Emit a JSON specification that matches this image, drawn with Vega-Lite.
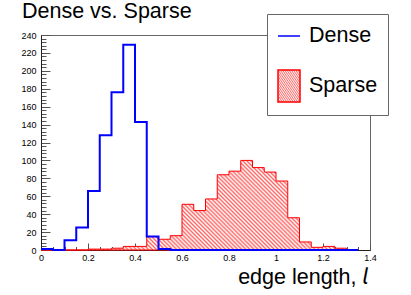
{
"$schema": "https://vega.github.io/schema/vega-lite/v6.json",
"width": 329, "height": 215,
"autosize": "none",
"padding": {"left": 41, "top": 35, "right": 41, "bottom": 45},
"background": "white",
"title": {"text": "Dense vs. Sparse", "anchor": "start", "frame": "group", "dx": -19, "offset": 0, "dy": 26, "baseline": "alphabetic", "fontSize": 21.5, "font": "Liberation Sans", "fontWeight": "normal", "color": "#000"},
"data": {"values": [
{"bin": 0, "dense": 1, "sparse": 0},
{"bin": 0.05, "dense": 0, "sparse": 0},
{"bin": 0.1, "dense": 11, "sparse": 0},
{"bin": 0.15, "dense": 25, "sparse": 0},
{"bin": 0.2, "dense": 66, "sparse": 1},
{"bin": 0.25, "dense": 128, "sparse": 1},
{"bin": 0.3, "dense": 176, "sparse": 2},
{"bin": 0.35, "dense": 229, "sparse": 4},
{"bin": 0.4, "dense": 143, "sparse": 4},
{"bin": 0.45, "dense": 15, "sparse": 15},
{"bin": 0.5, "dense": 1, "sparse": 12},
{"bin": 0.55, "dense": 0, "sparse": 16},
{"bin": 0.6, "dense": 0, "sparse": 51},
{"bin": 0.65, "dense": 0, "sparse": 44},
{"bin": 0.7, "dense": 0, "sparse": 57},
{"bin": 0.75, "dense": 0, "sparse": 84},
{"bin": 0.8, "dense": 0, "sparse": 88},
{"bin": 0.85, "dense": 0, "sparse": 100},
{"bin": 0.9, "dense": 0, "sparse": 92},
{"bin": 0.95, "dense": 0, "sparse": 87},
{"bin": 1.0, "dense": 0, "sparse": 77},
{"bin": 1.05, "dense": 0, "sparse": 36},
{"bin": 1.1, "dense": 0, "sparse": 9},
{"bin": 1.15, "dense": 0, "sparse": 3},
{"bin": 1.2, "dense": 0, "sparse": 4},
{"bin": 1.25, "dense": 0, "sparse": 2},
{"bin": 1.3, "dense": 0, "sparse": 0},
{"bin": 1.35, "dense": 0, "sparse": 0}
]},
"layer": [
{
"mark": {"type": "area", "interpolate": "step-after", "strokeWidth": 1, "strokeJoin": "miter",
 "fill": {"gradient": "linear", "x1": 0, "y1": 1, "x2": 1.1877, "y2": 0.6646, "stops": [
{"offset":0,"color":"#fff"},{"offset":0.005,"color":"#f66"},{"offset":0.01,"color":"#fff"},{"offset":0.015,"color":"#f66"},{"offset":0.02,"color":"#fff"},{"offset":0.025,"color":"#f66"},{"offset":0.03,"color":"#fff"},{"offset":0.035,"color":"#f66"},{"offset":0.04,"color":"#fff"},{"offset":0.045,"color":"#f66"},
{"offset":0.05,"color":"#fff"},{"offset":0.055,"color":"#f66"},{"offset":0.06,"color":"#fff"},{"offset":0.065,"color":"#f66"},{"offset":0.07,"color":"#fff"},{"offset":0.075,"color":"#f66"},{"offset":0.08,"color":"#fff"},{"offset":0.085,"color":"#f66"},{"offset":0.09,"color":"#fff"},{"offset":0.095,"color":"#f66"},
{"offset":0.1,"color":"#fff"},{"offset":0.105,"color":"#f66"},{"offset":0.11,"color":"#fff"},{"offset":0.115,"color":"#f66"},{"offset":0.12,"color":"#fff"},{"offset":0.125,"color":"#f66"},{"offset":0.13,"color":"#fff"},{"offset":0.135,"color":"#f66"},{"offset":0.14,"color":"#fff"},{"offset":0.145,"color":"#f66"},
{"offset":0.15,"color":"#fff"},{"offset":0.155,"color":"#f66"},{"offset":0.16,"color":"#fff"},{"offset":0.165,"color":"#f66"},{"offset":0.17,"color":"#fff"},{"offset":0.175,"color":"#f66"},{"offset":0.18,"color":"#fff"},{"offset":0.185,"color":"#f66"},{"offset":0.19,"color":"#fff"},{"offset":0.195,"color":"#f66"},
{"offset":0.2,"color":"#fff"},{"offset":0.205,"color":"#f66"},{"offset":0.21,"color":"#fff"},{"offset":0.215,"color":"#f66"},{"offset":0.22,"color":"#fff"},{"offset":0.225,"color":"#f66"},{"offset":0.23,"color":"#fff"},{"offset":0.235,"color":"#f66"},{"offset":0.24,"color":"#fff"},{"offset":0.245,"color":"#f66"},
{"offset":0.25,"color":"#fff"},{"offset":0.255,"color":"#f66"},{"offset":0.26,"color":"#fff"},{"offset":0.265,"color":"#f66"},{"offset":0.27,"color":"#fff"},{"offset":0.275,"color":"#f66"},{"offset":0.28,"color":"#fff"},{"offset":0.285,"color":"#f66"},{"offset":0.29,"color":"#fff"},{"offset":0.295,"color":"#f66"},
{"offset":0.3,"color":"#fff"},{"offset":0.305,"color":"#f66"},{"offset":0.31,"color":"#fff"},{"offset":0.315,"color":"#f66"},{"offset":0.32,"color":"#fff"},{"offset":0.325,"color":"#f66"},{"offset":0.33,"color":"#fff"},{"offset":0.335,"color":"#f66"},{"offset":0.34,"color":"#fff"},{"offset":0.345,"color":"#f66"},
{"offset":0.35,"color":"#fff"},{"offset":0.355,"color":"#f66"},{"offset":0.36,"color":"#fff"},{"offset":0.365,"color":"#f66"},{"offset":0.37,"color":"#fff"},{"offset":0.375,"color":"#f66"},{"offset":0.38,"color":"#fff"},{"offset":0.385,"color":"#f66"},{"offset":0.39,"color":"#fff"},{"offset":0.395,"color":"#f66"},
{"offset":0.4,"color":"#fff"},{"offset":0.405,"color":"#f66"},{"offset":0.41,"color":"#fff"},{"offset":0.415,"color":"#f66"},{"offset":0.42,"color":"#fff"},{"offset":0.425,"color":"#f66"},{"offset":0.43,"color":"#fff"},{"offset":0.435,"color":"#f66"},{"offset":0.44,"color":"#fff"},{"offset":0.445,"color":"#f66"},
{"offset":0.45,"color":"#fff"},{"offset":0.455,"color":"#f66"},{"offset":0.46,"color":"#fff"},{"offset":0.465,"color":"#f66"},{"offset":0.47,"color":"#fff"},{"offset":0.475,"color":"#f66"},{"offset":0.48,"color":"#fff"},{"offset":0.485,"color":"#f66"},{"offset":0.49,"color":"#fff"},{"offset":0.495,"color":"#f66"},
{"offset":0.5,"color":"#fff"},{"offset":0.505,"color":"#f66"},{"offset":0.51,"color":"#fff"},{"offset":0.515,"color":"#f66"},{"offset":0.52,"color":"#fff"},{"offset":0.525,"color":"#f66"},{"offset":0.53,"color":"#fff"},{"offset":0.535,"color":"#f66"},{"offset":0.54,"color":"#fff"},{"offset":0.545,"color":"#f66"},
{"offset":0.55,"color":"#fff"},{"offset":0.555,"color":"#f66"},{"offset":0.56,"color":"#fff"},{"offset":0.565,"color":"#f66"},{"offset":0.57,"color":"#fff"},{"offset":0.575,"color":"#f66"},{"offset":0.58,"color":"#fff"},{"offset":0.585,"color":"#f66"},{"offset":0.59,"color":"#fff"},{"offset":0.595,"color":"#f66"},
{"offset":0.6,"color":"#fff"},{"offset":0.605,"color":"#f66"},{"offset":0.61,"color":"#fff"},{"offset":0.615,"color":"#f66"},{"offset":0.62,"color":"#fff"},{"offset":0.625,"color":"#f66"},{"offset":0.63,"color":"#fff"},{"offset":0.635,"color":"#f66"},{"offset":0.64,"color":"#fff"},{"offset":0.645,"color":"#f66"},
{"offset":0.65,"color":"#fff"},{"offset":0.655,"color":"#f66"},{"offset":0.66,"color":"#fff"},{"offset":0.665,"color":"#f66"},{"offset":0.67,"color":"#fff"},{"offset":0.675,"color":"#f66"},{"offset":0.68,"color":"#fff"},{"offset":0.685,"color":"#f66"},{"offset":0.69,"color":"#fff"},{"offset":0.695,"color":"#f66"},
{"offset":0.7,"color":"#fff"},{"offset":0.705,"color":"#f66"},{"offset":0.71,"color":"#fff"},{"offset":0.715,"color":"#f66"},{"offset":0.72,"color":"#fff"},{"offset":0.725,"color":"#f66"},{"offset":0.73,"color":"#fff"},{"offset":0.735,"color":"#f66"},{"offset":0.74,"color":"#fff"},{"offset":0.745,"color":"#f66"},
{"offset":0.75,"color":"#fff"},{"offset":0.755,"color":"#f66"},{"offset":0.76,"color":"#fff"},{"offset":0.765,"color":"#f66"},{"offset":0.77,"color":"#fff"},{"offset":0.775,"color":"#f66"},{"offset":0.78,"color":"#fff"},{"offset":0.785,"color":"#f66"},{"offset":0.79,"color":"#fff"},{"offset":0.795,"color":"#f66"},
{"offset":0.8,"color":"#fff"},{"offset":0.805,"color":"#f66"},{"offset":0.81,"color":"#fff"},{"offset":0.815,"color":"#f66"},{"offset":0.82,"color":"#fff"},{"offset":0.825,"color":"#f66"},{"offset":0.83,"color":"#fff"},{"offset":0.835,"color":"#f66"},{"offset":0.84,"color":"#fff"},{"offset":0.845,"color":"#f66"},
{"offset":0.85,"color":"#fff"},{"offset":0.855,"color":"#f66"},{"offset":0.86,"color":"#fff"},{"offset":0.865,"color":"#f66"},{"offset":0.87,"color":"#fff"},{"offset":0.875,"color":"#f66"},{"offset":0.88,"color":"#fff"},{"offset":0.885,"color":"#f66"},{"offset":0.89,"color":"#fff"},{"offset":0.895,"color":"#f66"},
{"offset":0.9,"color":"#fff"},{"offset":0.905,"color":"#f66"},{"offset":0.91,"color":"#fff"},{"offset":0.915,"color":"#f66"},{"offset":0.92,"color":"#fff"},{"offset":0.925,"color":"#f66"},{"offset":0.93,"color":"#fff"},{"offset":0.935,"color":"#f66"},{"offset":0.94,"color":"#fff"},{"offset":0.945,"color":"#f66"},
{"offset":0.95,"color":"#fff"},{"offset":0.955,"color":"#f66"},{"offset":0.96,"color":"#fff"},{"offset":0.965,"color":"#f66"},{"offset":0.97,"color":"#fff"},{"offset":0.975,"color":"#f66"},{"offset":0.98,"color":"#fff"},{"offset":0.985,"color":"#f66"},{"offset":0.99,"color":"#fff"},{"offset":0.995,"color":"#f66"},
{"offset":1,"color":"#fff"}
]}},
"encoding": {
 "x": {"field": "bin", "type": "quantitative", "scale": {"domain": [0, 1.4], "nice": false, "zero": false},
  "axis": {"title": "edge length, 𝘭", "values": [0,0.05,0.1,0.15,0.2,0.25,0.3,0.35,0.4,0.45,0.5,0.55,0.6,0.65,0.7,0.75,0.8,0.85,0.9,0.95,1,1.05,1.1,1.15,1.2,1.25,1.3,1.35,1.4],
   "format": "~g", "labelExpr": "abs(datum.value*5 - round(datum.value*5)) < 0.001 ? datum.label : ''",
   "tickSize": {"condition": {"test": "abs(datum.value*5 - round(datum.value*5)) < 0.001", "value": -7}, "value": -3.5},
   "labelPadding": 10, "labelOverlap": false, "labelFlush": false, "grid": false,
   "titleX": 327, "titleY": 33, "titleAlign": "right", "titleBaseline": "alphabetic", "titleAnchor": "end"}},
 "y": {"field": "sparse", "type": "quantitative", "scale": {"domain": [0, 240], "nice": false},
  "axis": {"title": null, "values": [0,4,8,12,16,20,24,28,32,36,40,44,48,52,56,60,64,68,72,76,80,84,88,92,96,100,104,108,112,116,120,124,128,132,136,140,144,148,152,156,160,164,168,172,176,180,184,188,192,196,200,204,208,212,216,220,224,228,232,236,240],
   "labelExpr": "datum.value % 20 === 0 ? datum.label : ''",
   "tickSize": {"condition": {"test": "datum.value % 20 === 0", "value": -9}, "value": -5},
   "labelPadding": 14, "labelOverlap": false, "labelFlush": false, "grid": false}},
 "stroke": {"datum": "Sparse", "scale": {"domain": ["Dense", "Sparse"], "range": ["#0000ff", "#ff0000"]},
  "legend": {"orient": "none", "legendX": 226, "legendY": -21, "title": null,
   "padding": 10, "rowPadding": 20, "symbolSize": 484, "labelOffset": 8,
   "labelFontSize": 21.5, "labelFont": "Liberation Sans", "labelColor": "#000",
   "strokeColor": "#666", "fillColor": "#fff",
   "symbolType": {"expr": "datum.value === 'Dense' ? 'M-1,0H1' : 'M-1,-1.4545H1V1.4545H-1Z'"},
   "encode": {"symbols": {"update": {
     "shape": [{"test": "datum.value === 'Dense'", "value": "M-1,0H1"}, {"value": "M-1,-1.4545H1V1.4545H-1Z"}],
     "fill": [{"test": "datum.value === 'Dense'", "value": "transparent"}, {"value": {"gradient": "linear", "x1": 0, "y1": 1, "x2": 0.7878, "y2": -0.1459, "stops": [
{"offset":0,"color":"#fff"},{"offset":0.037,"color":"#f77"},{"offset":0.074,"color":"#fff"},{"offset":0.111,"color":"#f77"},{"offset":0.148,"color":"#fff"},{"offset":0.185,"color":"#f77"},{"offset":0.222,"color":"#fff"},{"offset":0.259,"color":"#f77"},{"offset":0.296,"color":"#fff"},{"offset":0.333,"color":"#f77"},{"offset":0.37,"color":"#fff"},{"offset":0.407,"color":"#f77"},{"offset":0.444,"color":"#fff"},{"offset":0.481,"color":"#f77"},{"offset":0.518,"color":"#fff"},{"offset":0.555,"color":"#f77"},{"offset":0.592,"color":"#fff"},{"offset":0.629,"color":"#f77"},{"offset":0.666,"color":"#fff"},{"offset":0.703,"color":"#f77"},{"offset":0.74,"color":"#fff"},{"offset":0.777,"color":"#f77"},{"offset":0.814,"color":"#fff"},{"offset":0.851,"color":"#f77"},{"offset":0.888,"color":"#fff"},{"offset":0.925,"color":"#f77"},{"offset":0.962,"color":"#fff"},{"offset":0.999,"color":"#f77"},{"offset":1,"color":"#f77"}
     ]}}],
     "stroke": [{"test": "datum.value === 'Dense'", "value": "#0000ff"}, {"value": "#ff0000"}],
     "strokeWidth": [{"test": "datum.value === 'Dense'", "value": 2}, {"value": 1}],
     "opacity": {"value": 1},
     "size": {"value": 484}
   }}}}}
}
},
{
"mark": {"type": "line", "interpolate": "step-after", "strokeWidth": 2, "strokeJoin": "miter"},
"encoding": {
 "x": {"field": "bin", "type": "quantitative",
  "axis": {"title": "edge length, 𝘭", "values": [0,0.05,0.1,0.15,0.2,0.25,0.3,0.35,0.4,0.45,0.5,0.55,0.6,0.65,0.7,0.75,0.8,0.85,0.9,0.95,1,1.05,1.1,1.15,1.2,1.25,1.3,1.35,1.4],
   "format": "~g", "labelExpr": "abs(datum.value*5 - round(datum.value*5)) < 0.001 ? datum.label : ''",
   "tickSize": {"condition": {"test": "abs(datum.value*5 - round(datum.value*5)) < 0.001", "value": -7}, "value": -3.5},
   "labelPadding": 10, "labelOverlap": false, "labelFlush": false, "grid": false,
   "titleX": 327, "titleY": 33, "titleAlign": "right", "titleBaseline": "alphabetic", "titleAnchor": "end"}},
 "y": {"field": "dense", "type": "quantitative",
  "axis": {"title": null, "values": [0,4,8,12,16,20,24,28,32,36,40,44,48,52,56,60,64,68,72,76,80,84,88,92,96,100,104,108,112,116,120,124,128,132,136,140,144,148,152,156,160,164,168,172,176,180,184,188,192,196,200,204,208,212,216,220,224,228,232,236,240],
   "labelExpr": "datum.value % 20 === 0 ? datum.label : ''",
   "tickSize": {"condition": {"test": "datum.value % 20 === 0", "value": -9}, "value": -5},
   "labelPadding": 14, "labelOverlap": false, "labelFlush": false, "grid": false}},
 "stroke": {"datum": "Dense"}
}
}
],
"config": {
 "view": {"stroke": "#666", "strokeWidth": 1},
 "axis": {"labelFont": "Liberation Sans", "labelFontSize": 9, "labelColor": "#000", "domainColor": "#222", "tickColor": "#555", "titleFont": "Liberation Sans", "titleFontSize": 21.5, "titleFontWeight": "normal", "titleColor": "#000"}
}
}
